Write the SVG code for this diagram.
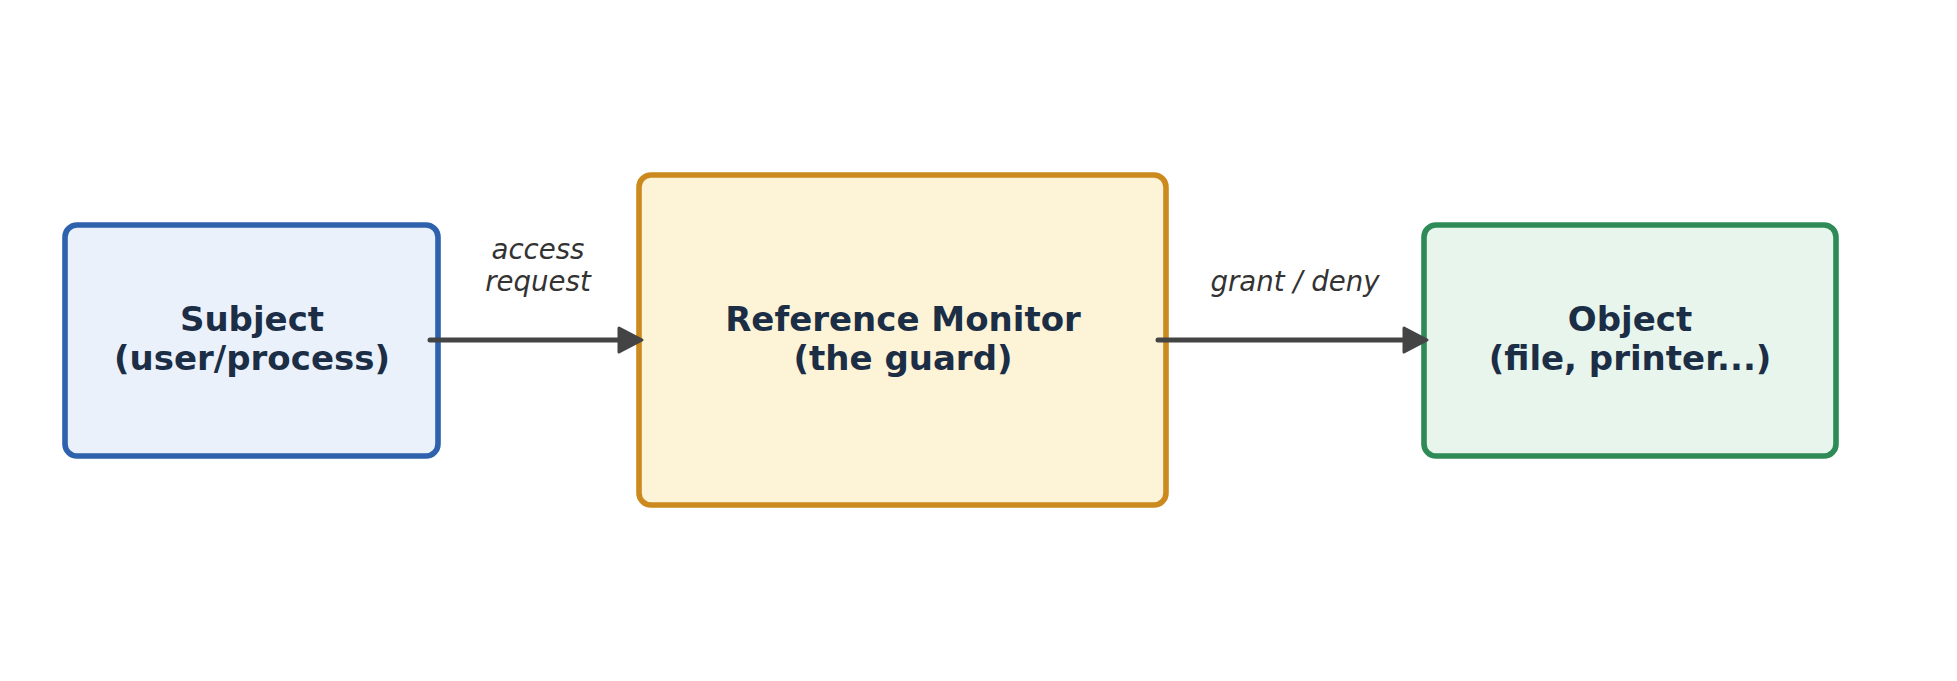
<svg xmlns="http://www.w3.org/2000/svg" width="1957" height="681" viewBox="0 0 1957 681">
<style>
.node rect{stroke-width:5.6}
.lbl{font-family:"DejaVu Sans",sans-serif;font-weight:bold;font-size:34px;fill:#1b2e45;text-anchor:middle}
.elbl{font-family:"DejaVu Sans",sans-serif;font-style:italic;font-size:27.6px;fill:#333;text-anchor:middle}
.conn line{stroke:#444;stroke-width:5;stroke-linecap:round}
.conn polygon{fill:#444;stroke:#444;stroke-width:3;stroke-linejoin:round}
</style>
<rect width="1957" height="681" fill="#fff"/>
<g id="subject" class="node">
<rect x="65" y="225" width="373" height="231" rx="12" fill="#eaf1fb" stroke="#2e62ad"/>
<text class="lbl" x="252" y="331">Subject</text>
<text class="lbl" x="252" y="370">(user/process)</text>
</g>
<g id="monitor" class="node">
<rect x="639" y="175" width="527" height="330" rx="12" fill="#fdf3d7" stroke="#cc8a1e"/>
<text class="lbl" x="903" y="331">Reference Monitor</text>
<text class="lbl" x="903" y="370">(the guard)</text>
</g>
<g id="object" class="node">
<rect x="1424" y="225" width="412" height="231" rx="12" fill="#e8f5ec" stroke="#2e8b57"/>
<text class="lbl" x="1630" y="331">Object</text>
<text class="lbl" x="1630" y="370">(file, printer...)</text>
</g>
<g id="connectors" class="conn">
<line x1="430" y1="340" x2="625" y2="340"/>
<polygon points="619,328 642,340 619,352"/>
<text class="elbl" x="538" y="259">access</text>
<text class="elbl" x="538" y="291">request</text>
<line x1="1158" y1="340" x2="1410" y2="340"/>
<polygon points="1404,328 1427,340 1404,352"/>
<text class="elbl" x="1295" y="291">grant / deny</text>
</g>
</svg>
